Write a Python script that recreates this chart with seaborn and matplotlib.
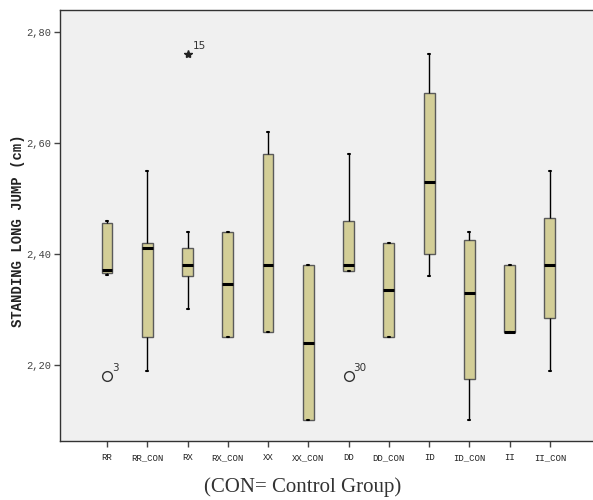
import matplotlib
matplotlib.use("Agg")
import matplotlib.pyplot as plt
import seaborn as sns
import pandas as pd

groups = ["RR", "RR_CON", "RX", "RX_CON", "XX", "XX_CON",
          "DD", "DD_CON", "ID", "ID_CON", "II", "II_CON"]
whisker_low = [2.362, 2.19, 2.30, 2.25, 2.26, 2.10, 2.37, 2.25, 2.36, 2.10, 2.26, 2.19]
q1 = [2.366, 2.25, 2.36, 2.25, 2.26, 2.10, 2.37, 2.25, 2.40, 2.175, 2.26, 2.285]
median = [2.371, 2.41, 2.38, 2.345, 2.38, 2.24, 2.38, 2.335, 2.53, 2.33, 2.26, 2.38]
q3 = [2.455, 2.42, 2.41, 2.44, 2.58, 2.38, 2.46, 2.42, 2.69, 2.425, 2.38, 2.465]
whisker_high = [2.46, 2.55, 2.44, 2.44, 2.62, 2.38, 2.58, 2.42, 2.76, 2.44, 2.38, 2.55]

out_group = ["RR", "RX", "DD"]
out_value = [2.18, 2.76, 2.18]
out_label = ["3", "15", "30"]
out_marker = ["o", "*", "o"]

yticks = [2.20, 2.40, 2.60, 2.80]
ytick_labels = ["2,20", "2,40", "2,60", "2,80"]

rows = []
for g, a, b, c, d, e in zip(groups, whisker_low, q1, median, q3, whisker_high):
    for v in (a, b, c, d, e):
        rows.append({"group": g, "value": v})
df = pd.DataFrame(rows)

sns.set_style("white")
fig = plt.figure(figsize=(5.93, 5.0), dpi=100)
ax = fig.add_axes([60 / 593, 1 - 441 / 500, (593 - 60) / 593, (441 - 10) / 500])
ax.set_facecolor("#F0F0F0")

sns.boxplot(data=df, x="group", y="value", order=groups, whis=(0, 100),
            width=0.27, color="#D3CE97", saturation=1, showfliers=False,
            linecolor="#5a5a5a", linewidth=1.0,
            medianprops=dict(color="black", linewidth=2.2),
            whiskerprops=dict(color="black", linewidth=1.0),
            capprops=dict(color="black", linewidth=1.5),
            capwidths=0.05, ax=ax)

pos = {g: i for i, g in enumerate(groups)}
for g, v, lab, m in zip(out_group, out_value, out_label, out_marker):
    x = pos[g]
    if m == "o":
        ax.plot(x, v, marker="o", markersize=7, markerfacecolor="none",
                markeredgecolor="#333333", markeredgewidth=1.0, linestyle="none")
    else:
        ax.plot(x, v, marker="*", markersize=6, color="#222222", linestyle="none")
    ax.annotate(lab, (x, v), xytext=(3.5, 4), textcoords="offset points",
                fontsize=7.5, color="#333333", family="DejaVu Sans")

ax.set_xlim(-1.167, 12.07)
ax.set_ylim(2.063, 2.8396)
ax.set_yticks(yticks)
ax.set_yticklabels(ytick_labels, family="Liberation Mono", fontsize=7.5, color="#444444")
ax.set_xticks(range(len(groups)))
ax.set_xticklabels(groups, family="Liberation Mono", fontsize=6.5, color="#222222")
ax.tick_params(axis="both", direction="out", length=4, width=1, color="#444444",
               left=True, bottom=True, pad=2)
ax.tick_params(axis="x", pad=5)
ax.set_xlabel("")
ax.set_ylabel("")
for side in ["left", "bottom", "top"]:
    ax.spines[side].set_color("#333333")
    ax.spines[side].set_linewidth(1.0)
ax.spines["right"].set_visible(False)

fig.text(18 / 593, 1 - 231 / 500, "STANDING LONG JUMP (cm)", rotation=90,
         family="Liberation Mono", fontweight="bold", fontsize=10,
         ha="center", va="center", color="#222222")
fig.text(303 / 593, 1 - 487 / 500, "(CON= Control Group)", family="Liberation Serif",
         fontsize=15, ha="center", va="center", color="#333333")

fig.savefig("out.png", dpi=100)
